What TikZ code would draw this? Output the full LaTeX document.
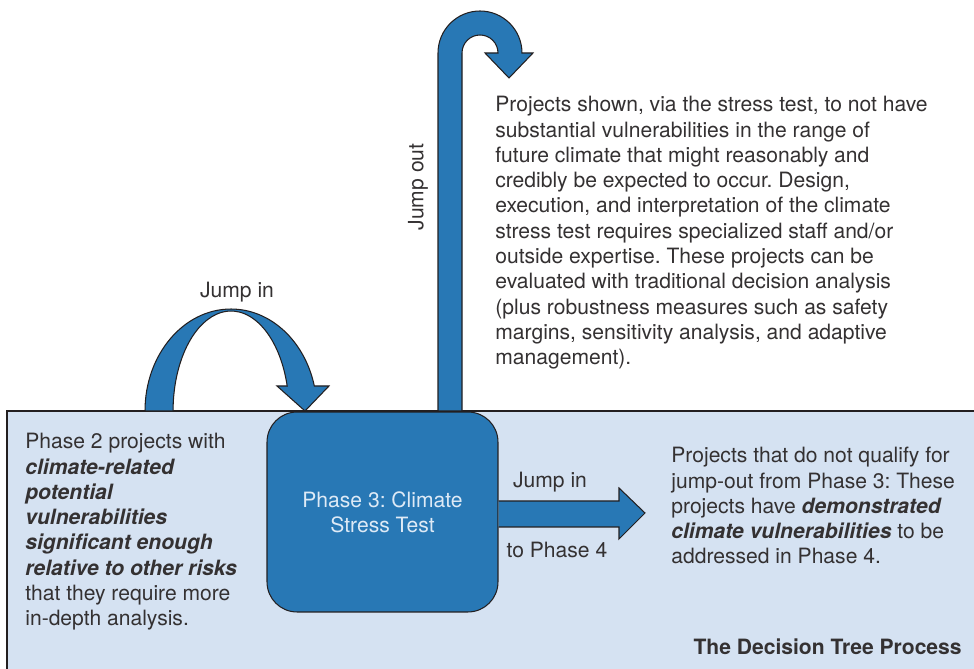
\documentclass[tikz,border=0pt]{standalone}
\usepackage{fontspec}
\setmainfont{TeX Gyre Heros}
\usetikzlibrary{
    positioning,
    calc
}
\frenchspacing
\definecolor{stressblue}{RGB}{40, 120, 181}
\definecolor{panelblue}{RGB}{213, 226, 242}
\definecolor{inkgray}{RGB}{35, 31, 32}
\definecolor{textgray}{RGB}{52, 49, 50}
\definecolor{boxtext}{RGB}{222, 234, 246}

\begin{document}
\begin{tikzpicture}[
        x=0.02cm, y=0.02cm,
        blockarrow/.style={fill=stressblue, draw=inkgray, line width=0.6pt, line join=miter},
        phasebox/.style={rectangle, draw=inkgray, line width=0.6pt, fill=stressblue, rounded corners=0.6cm, minimum width=4.62cm, minimum height=4cm, align=center, text=boxtext, font=\fontsize{12}{14.4}\selectfont},
        body/.style={inner sep=0pt, align=left, text=textgray, font=\fontsize{12}{14.4}\selectfont},
        tag/.style={inner sep=0pt, text=textgray, font=\fontsize{12}{14.4}\selectfont}
    ]
        \useasboundingbox (0,0) rectangle (974,669);

        % lower panel
        \filldraw[fill=panelblue, draw=inkgray, line width=0.6pt] (7,-10) rectangle (990,258);

        % jump out of phase 3
        \draw[blockarrow] (438,258) -- (438,616) arc[start angle=180, end angle=0, radius=0.84cm]
            -- (533,616) -- (509,591) -- (485,616) -- (498,616)
            arc[start angle=0, end angle=180, radius=0.36cm] -- (462,258) -- cycle;

        % jump into phase 3
        \draw[blockarrow] (145,258) arc[start angle=180, end angle=14.2, x radius=1.72cm, y radius=2.04cm]
            -- (329,283) -- (305,258) -- (277,283) -- (287.2,283)
            arc[start angle=14.5, end angle=180, x radius=1.16cm, y radius=2.0cm] -- cycle;

        \node[phasebox] (phase3) at (382.5,157) {Phase 3: Climate\\Stress Test};

        % on to phase 4
        \draw[blockarrow] ($(phase3.east)+(0,11)$) -- (619,168) -- (619,181) -- (645,156)
            -- (619,130) -- (619,142) -- ($(phase3.east)+(0,-15)$);

        \node[tag] (jumpin) at (237,377) {Jump in};
        \node[tag, rotate=90] (jumpout) at (418,482) {Jump out};
        \node[tag] (jumpin4) at (550,187) {Jump in};
        \node[tag] (tophase4) at (557,119) {to Phase 4};

        \node[body, anchor=north west] (phase2txt) at (25,236) {Phase 2 projects with\\\textbf{\textit{climate-related}}\\\textbf{\textit{potential}}\\\textbf{\textit{vulnerabilities}}\\\textbf{\textit{significant enough}}\\\textbf{\textit{relative to other risks}}\\that they require more\\in-depth analysis.};

        \node[body, anchor=north west] (jumpouttxt) at (495,573) {Projects shown, via the stress test, to not have\\substantial vulnerabilities in the range of\\future climate that might reasonably and\\credibly be expected to occur. Design,\\execution, and interpretation of the climate\\stress test requires specialized staff and/or\\outside expertise. These projects can be\\evaluated with traditional decision analysis\\(plus robustness measures such as safety\\margins, sensitivity analysis, and adaptive\\management).};

        \node[body, anchor=north west] (phase4txt) at (671,222) {Projects that do not qualify for\\jump-out from Phase 3: These\\projects have \textbf{\textit{demonstrated}}\\\textbf{\textit{climate vulnerabilities}} to be\\addressed in Phase 4.};

        \node[tag, font=\fontsize{12}{14.4}\selectfont\bfseries, anchor=base east] (title) at (962,14) {The Decision Tree Process};
    \end{tikzpicture}
\end{document}
